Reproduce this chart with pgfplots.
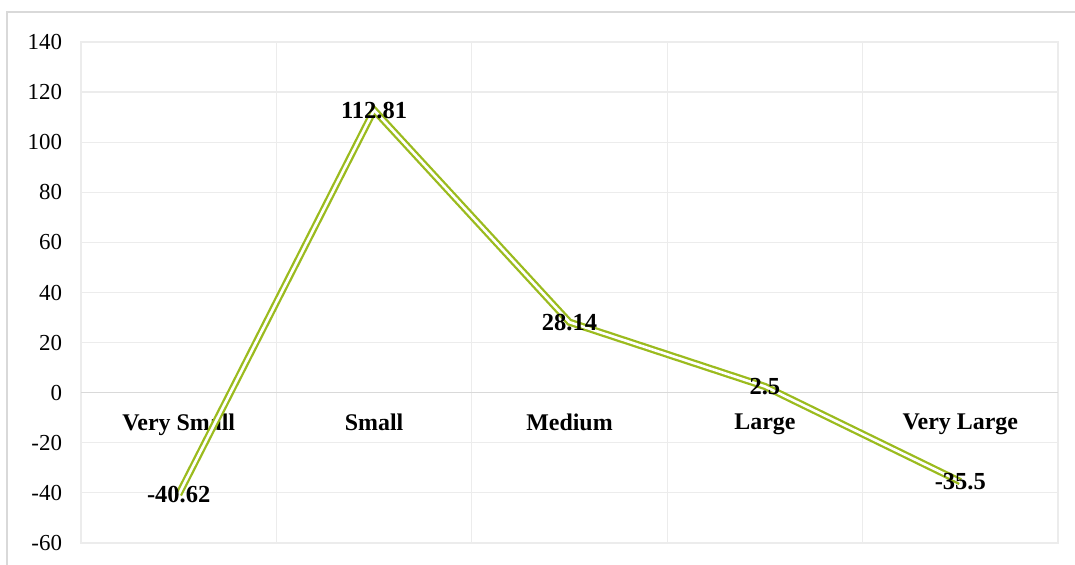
\documentclass[border=0pt]{standalone}
\usepackage{fontspec}
\setmainfont{Liberation Serif}
\usepackage{pgfplots}
\pgfplotsset{compat=1.18}
\usepackage{pgfplotstable}

\definecolor{lineolive}{RGB}{155,187,30}
\definecolor{gridgray}{RGB}{236,236,236}
\definecolor{zerogray}{RGB}{217,217,217}
\definecolor{framegray}{RGB}{217,217,217}

% change by firm size class
\pgfplotstableread{
x y lbl
0 -40.62 -40.62
1 112.81 112.81
2 28.14 28.14
3 2.5 2.5
4 -35.5 -35.5
}\sizedata

\begin{document}
\begin{tikzpicture}
\useasboundingbox (0bp,0bp) rectangle (537.5bp,282.5bp);
% outer chart frame
\draw[framegray, line width=0.75bp] (3.5bp,-5bp) -- (3.5bp,276.5bp) -- (545bp,276.5bp);
\begin{axis}[
  at={(40.5bp,11bp)}, anchor=south west,
  scale only axis, width=488.5bp, height=250.5bp,
  xmin=-0.5, xmax=4.5, ymin=-60, ymax=140,
  ytick={-60,-40,...,140},
  xtick={0,...,4},
  xticklabels={Very Small, Small, Medium, Large, Very Large},
  minor xtick={-0.5,0.5,...,4.5},
  xminorgrids, ymajorgrids,
  grid style={draw=gridgray, line width=0.6bp},
  minor grid style={draw=gridgray, line width=0.6bp},
  extra y ticks={0}, extra y tick labels={},
  extra y tick style={grid style={draw=zerogray, line width=0.6bp}},
  axis line style={draw=gridgray, line width=0.6bp},
  major tick length=0pt, minor tick length=0pt,
  tick style={draw=none},
  /pgf/number format/assume math mode=true,
  yticklabel style={font=\fontsize{11.5}{13}\selectfont, xshift=-6bp},
  xticklabel style={font=\bfseries\fontsize{12}{14}\selectfont, yshift=68bp},
  point meta=explicit symbolic,
  nodes near coords,
  every node near coord/.append style={
    anchor=center, text=black, font=\bfseries\fontsize{12.3}{14}\selectfont},
]
\addplot[draw=lineolive, line width=1.15bp, double=white, double distance=1.3bp,
  mark=none, line join=miter]
  table[x=x, y=y, meta=lbl] {\sizedata};
\end{axis}
\end{tikzpicture}
\end{document}
